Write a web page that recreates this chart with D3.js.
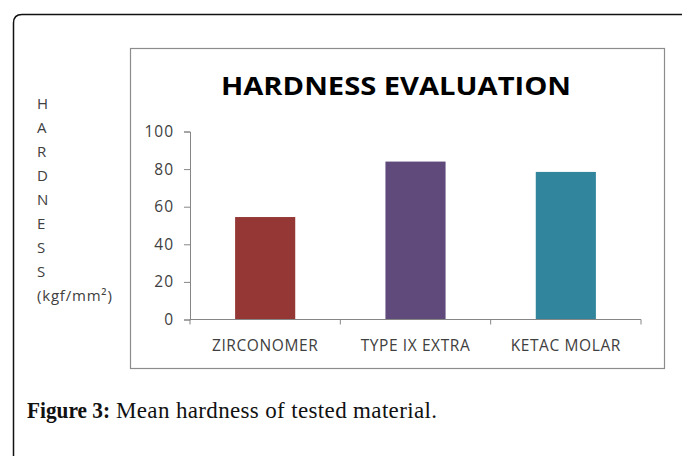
<!DOCTYPE html>
<html>
<head>
<meta charset="utf-8">
<script src="https://cdn.jsdelivr.net/npm/d3@7"></script>
<style>
  html, body { margin: 0; padding: 0; background: #fff; }
  svg { display: block; }
</style>
</head>
<body>
<svg id="chart" width="682" height="456"></svg>
<script>
const materials = ['ZIRCONOMER', 'TYPE IX EXTRA', 'KETAC MOLAR'];
const hardness = [54.5, 84, 78.5];
const barColors = ['#953735', '#604A7B', '#31859C'];
const yTicks = [0, 20, 40, 60, 80, 100];
const yTitleLetters = ['H', 'A', 'R', 'D', 'N', 'E', 'S', 'S'];

const svg = d3.select('#chart');
const labelFont = '"Open Sans", sans-serif';

// outer figure frame (rounded top-left, runs off the page)
svg.append('path')
  .attr('d', 'M13.5,460 L13.5,23 Q13.5,14.5 22,14.5 L690,14.5')
  .attr('fill', 'none')
  .attr('stroke', '#111')
  .attr('stroke-width', 1.5);

// chart area frame
svg.append('rect')
  .attr('x', 130.5).attr('y', 48.5)
  .attr('width', 534).attr('height', 320)
  .attr('fill', '#fff')
  .attr('stroke', '#8c8c8c')
  .attr('stroke-width', 1.2);

const margin = { left: 190, right: 641, top: 131.5, bottom: 319.5 };

const x = d3.scaleBand()
  .domain(materials)
  .range([margin.left, margin.right])
  .paddingInner(0.6)
  .paddingOuter(0.3);

const y = d3.scaleLinear()
  .domain([0, 100])
  .range([margin.bottom, margin.top]);

svg.append('text')
  .attr('x', 396).attr('y', 95)
  .attr('text-anchor', 'middle')
  .attr('font-family', labelFont)
  .attr('font-weight', 'bold')
  .attr('font-size', 25)
  .attr('textLength', 350)
  .attr('lengthAdjust', 'spacingAndGlyphs')
  .attr('fill', '#000')
  .text('HARDNESS EVALUATION');

// bars
svg.append('g')
  .selectAll('rect')
  .data(materials)
  .join('rect')
  .attr('x', d => x(d))
  .attr('width', x.bandwidth())
  .attr('y', (d, i) => y(hardness[i]))
  .attr('height', (d, i) => y(0) - y(hardness[i]))
  .attr('fill', (d, i) => barColors[i]);

// y axis
const yAxis = svg.append('g')
  .attr('transform', `translate(${margin.left},0)`)
  .call(d3.axisLeft(y).tickValues(yTicks).tickSize(6).tickPadding(10));
yAxis.select('.domain').attr('stroke', '#868686');
yAxis.selectAll('.tick line').attr('stroke', '#868686');
yAxis.selectAll('.tick text')
  .attr('font-family', labelFont)
  .attr('font-size', 15.5)
  .attr('letter-spacing', 1)
  .attr('fill', '#404040');

// x axis with ticks at category boundaries
const xAxisG = svg.append('g')
  .attr('transform', `translate(0,${margin.bottom})`);
xAxisG.append('line')
  .attr('x1', margin.left).attr('x2', margin.right)
  .attr('stroke', '#868686');
const step = x.step();
const bounds = materials.map(d => x(d) - x.paddingInner() * step / 2);
bounds.push(margin.right);
xAxisG.selectAll('.xt')
  .data(bounds)
  .join('line')
  .attr('class', 'xt')
  .attr('x1', d => d).attr('x2', d => d)
  .attr('y1', 0).attr('y2', 5)
  .attr('stroke', '#868686');
xAxisG.selectAll('.xl')
  .data(materials)
  .join('text')
  .attr('class', 'xl')
  .attr('x', d => x(d) + x.bandwidth() / 2)
  .attr('y', 31)
  .attr('text-anchor', 'middle')
  .attr('font-family', labelFont)
  .attr('font-size', 15.5)
  .attr('letter-spacing', 0.6)
  .attr('fill', '#404040')
  .text(d => d);

// stacked vertical y title
const yTitle = svg.append('g')
  .attr('font-family', labelFont)
  .attr('font-size', 15)
  .attr('letter-spacing', 0.8)
  .attr('fill', '#404040');
yTitle.selectAll('text.l')
  .data(yTitleLetters)
  .join('text')
  .attr('class', 'l')
  .attr('x', 37)
  .attr('y', (d, i) => 109 + i * 24)
  .text(d => d);
yTitle.append('text')
  .attr('x', 37)
  .attr('y', 301)
  .text('(kgf/mm²)');

// caption
const capFont = '"Liberation Serif", serif';
svg.append('text')
  .attr('x', 27).attr('y', 418)
  .attr('font-family', capFont)
  .attr('font-weight', 'bold')
  .attr('font-size', 23)
  .attr('textLength', 83)
  .attr('lengthAdjust', 'spacingAndGlyphs')
  .attr('fill', '#111')
  .text('Figure 3:');
svg.append('text')
  .attr('x', 116).attr('y', 418)
  .attr('font-family', capFont)
  .attr('font-size', 23)
  .attr('textLength', 321)
  .attr('fill', '#111')
  .text('Mean hardness of tested material.');
</script>
</body>
</html>
